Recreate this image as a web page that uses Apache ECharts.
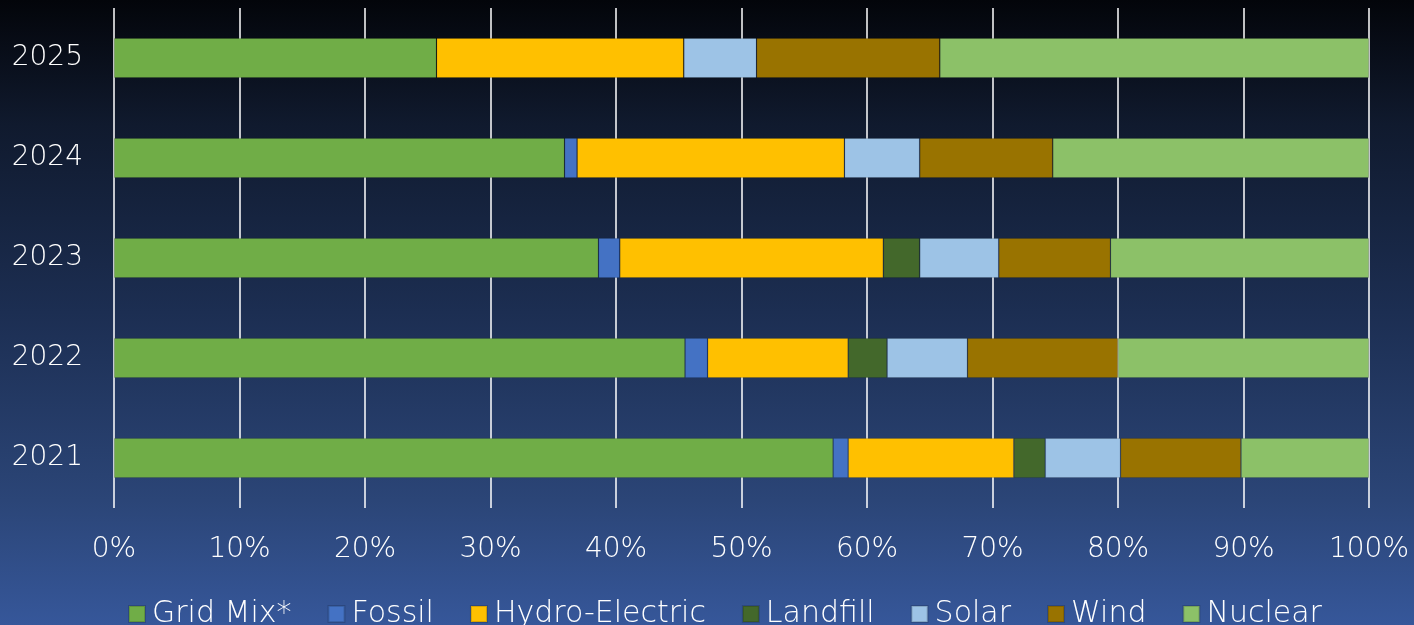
<!DOCTYPE html>
<html>
<head>
<meta charset="utf-8">
<script src="https://cdn.jsdelivr.net/npm/echarts@6/dist/echarts.min.js"></script>
<style>
html,body{margin:0;padding:0;}
#c{width:1414px;height:625px;background:linear-gradient(to bottom,#03050a 0%,#101a2e 20%,#1c2e52 50%,#2b4577 80%,#36579a 100%);}
</style>
</head>
<body>
<div id="c"></div>
<script>
const categories = ['2021', '2022', '2023', '2024', '2025'];
const gridMix = [57.3, 45.5, 38.6, 35.9, 25.7];
const fossil = [1.2, 1.8, 1.7, 1.0, 0];
const hydro = [13.2, 11.2, 21.0, 21.3, 19.7];
const landfill = [2.5, 3.1, 2.9, 0, 0];
const solar = [6.0, 6.4, 6.3, 6.0, 5.8];
const wind = [9.6, 12.0, 8.9, 10.6, 14.6];
const nuclear = [10.2, 20.0, 20.6, 25.2, 34.2];
const xTicks = [0, 10, 20, 30, 40, 50, 60, 70, 80, 90, 100];

const seriesDefs = [
  ['Grid Mix*', gridMix, '#70AD47'],
  ['Fossil', fossil, '#4472C4'],
  ['Hydro-Electric', hydro, '#FFC000'],
  ['Landfill', landfill, '#43682B'],
  ['Solar', solar, '#9DC3E6'],
  ['Wind', wind, '#997300'],
  ['Nuclear', nuclear, '#8CC168']
];

const FONT = '"DejaVu Sans"';
const FW = 200;
const chart = echarts.init(document.getElementById('c'), null, {renderer: 'canvas'});
chart.setOption({
  backgroundColor: 'transparent',
  animation: false,
  grid: {left: 114, right: 45, top: 8, bottom: 117, containLabel: false},
  xAxis: {
    type: 'value', min: 0, max: 100, interval: 10,
    axisLine: {show: false}, axisTick: {show: false},
    splitLine: {show: true, lineStyle: {color: '#ffffff', width: 1.5}},
    axisLabel: {color: '#ffffff', fontFamily: FONT, fontWeight: FW, fontSize: 28, margin: 28,
      formatter: v => xTicks.includes(v) ? v + '%' : ''}
  },
  yAxis: {
    type: 'category', data: categories,
    axisLine: {show: false}, axisTick: {show: false},
    axisLabel: {color: '#ffffff', fontFamily: FONT, fontWeight: FW, fontSize: 28, margin: 31}
  },
  legend: {
    left: 123, top: 594,
    itemWidth: 16, itemHeight: 16, itemGap: 36,
    icon: 'rect',
    textStyle: {color: '#ffffff', fontFamily: FONT, fontWeight: FW, fontSize: 30, padding: [0, 0, 0, 2]},
    data: seriesDefs.map(s => s[0])
  },
  series: seriesDefs.map(([name, data, color]) => ({
    name, type: 'bar', stack: 'total', data,
    barWidth: 40,
    itemStyle: {color, borderColor: 'rgba(0,0,0,0.15)', borderWidth: 0.8},
    emphasis: {disabled: true}
  }))
});
</script>
</body>
</html>
